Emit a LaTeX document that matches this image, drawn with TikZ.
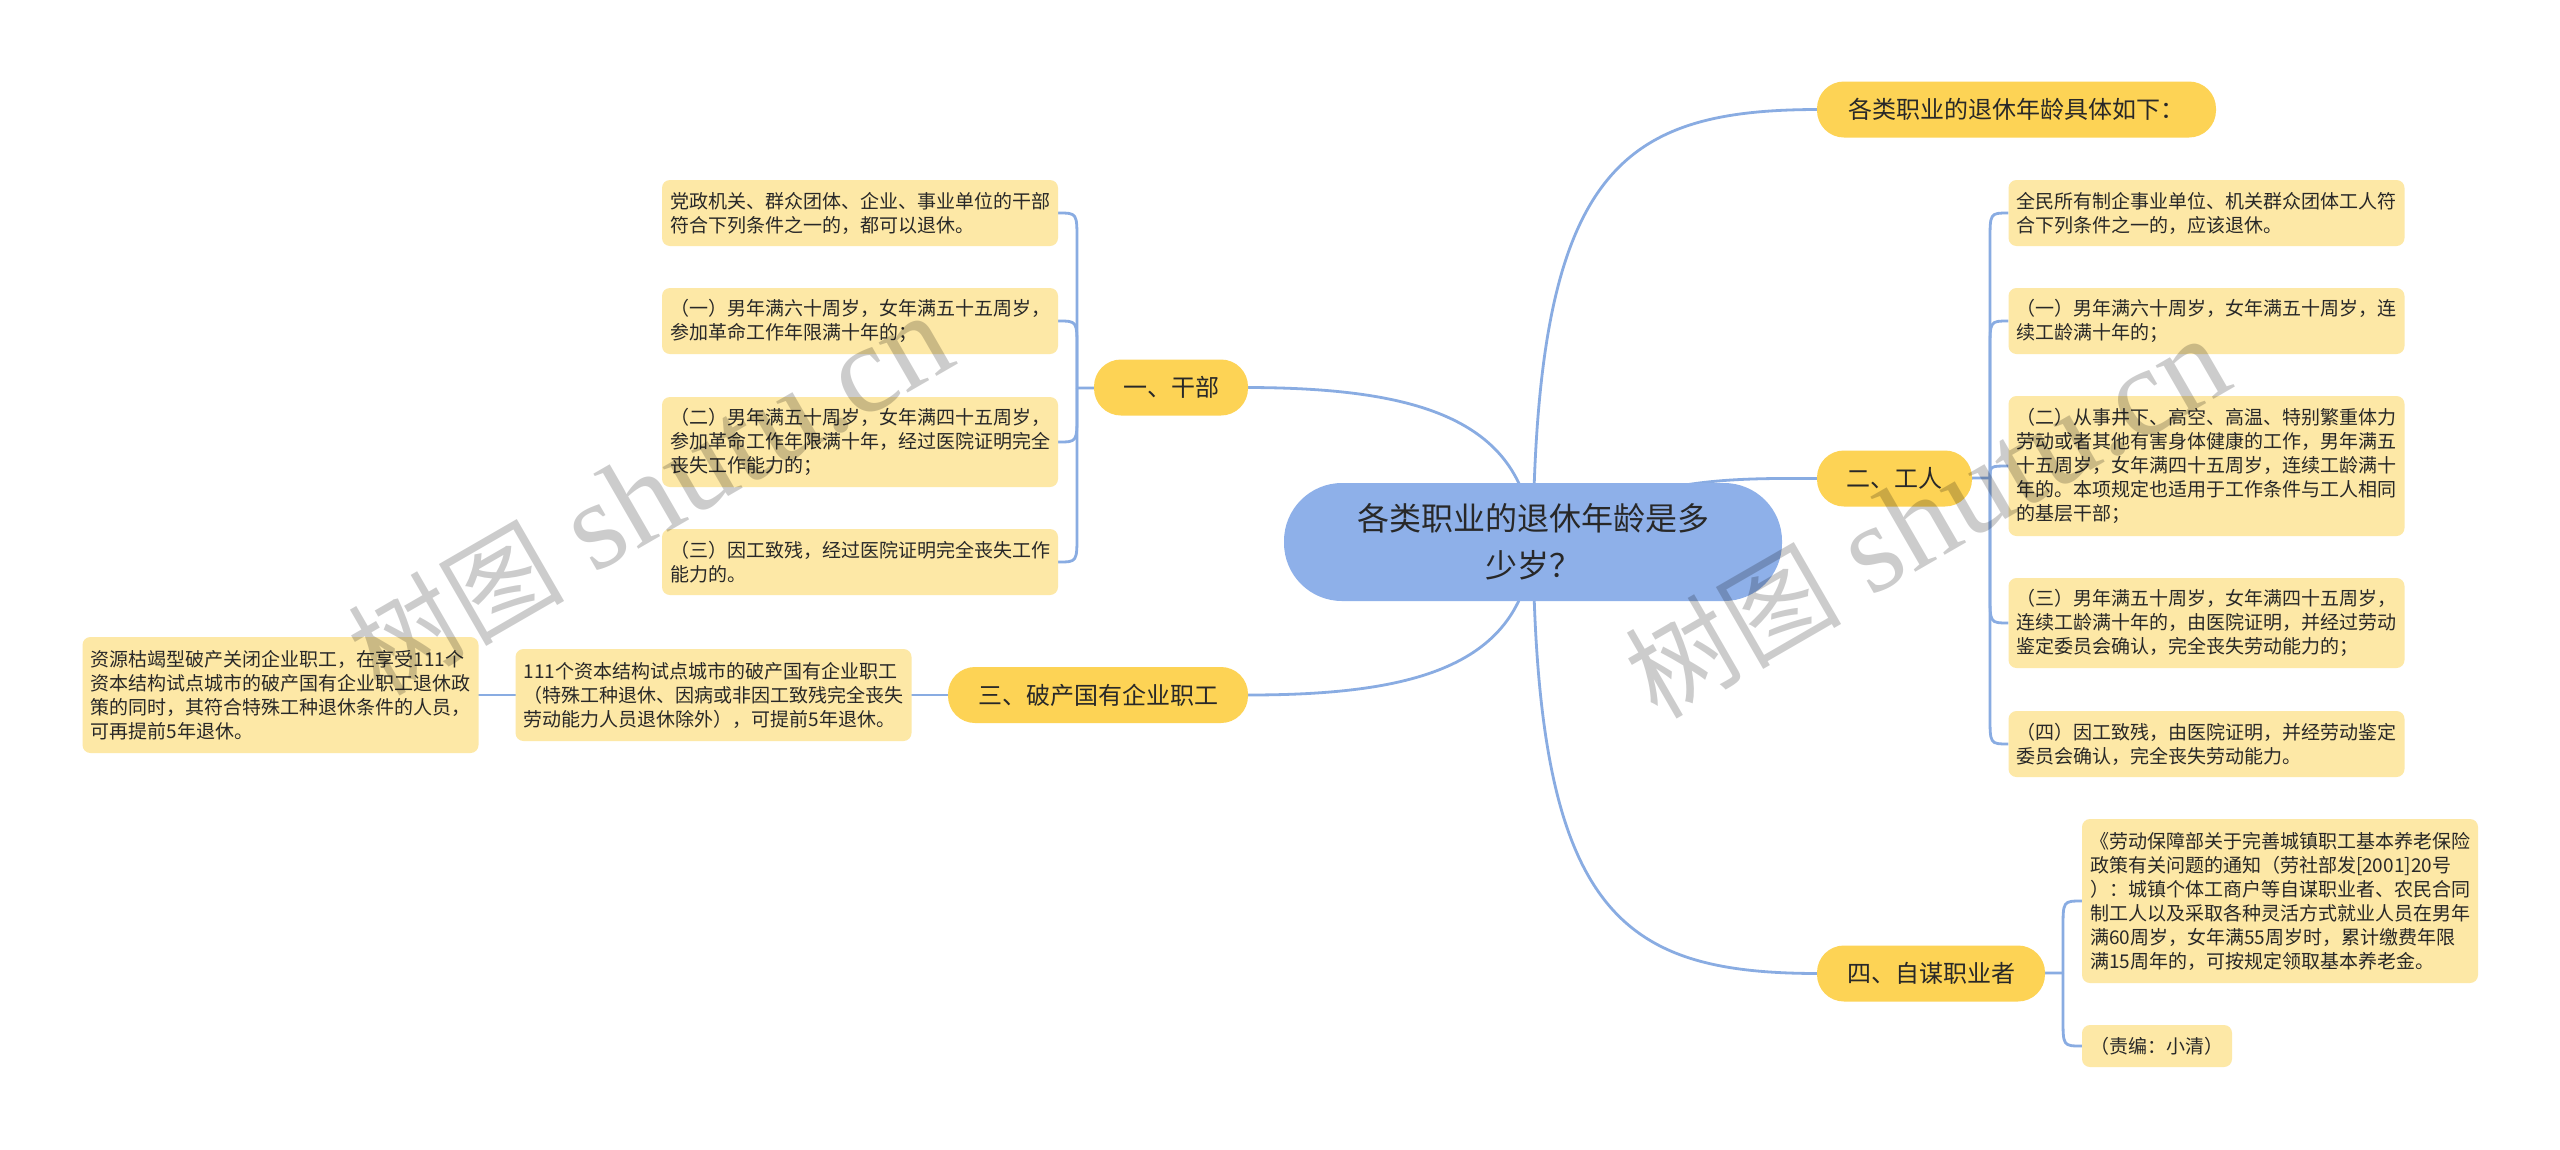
\documentclass[tikz,border=0pt]{standalone}
\usepackage{fontspec}
\setmainfont{Noto Sans CJK SC}
\newfontfamily\wmlatin{Liberation Serif}
\usetikzlibrary{calc}
\definecolor{centralc}{RGB}{142,176,233}
\definecolor{pillc}{RGB}{253,211,85}
\definecolor{leafc}{RGB}{253,232,166}
\definecolor{linec}{RGB}{137,172,226}
\definecolor{txt}{RGB}{40,40,40}
\pgfdeclarelayer{paper}
\pgfdeclarelayer{bg}
\pgfsetlayers{paper,bg,main}
\begin{document}
\begin{tikzpicture}[x=1pt,y=-1pt,
  conn/.style={draw=linec, line width=2.8pt},
  leaf/.style={fill=leafc, rounded corners=8pt, inner xsep=8pt, inner ysep=0pt, text width=380pt, align=left, font=\fontsize{19}{24}\selectfont, text=txt, anchor=center},
  pill/.style={fill=pillc, rounded corners=27pt, inner sep=0pt, font=\fontsize{24}{28}\selectfont, text=txt, anchor=center, minimum height=56pt},
  central/.style={fill=centralc, rounded corners=58pt, inner sep=0pt, minimum width=498pt, minimum height=118pt, align=center, font=\fontsize{32}{47}\selectfont, text=txt, anchor=center},
  wm/.style={rotate=30, text=black, text opacity=0.2, inner sep=0pt, anchor=center}
]
\useasboundingbox (0,0) rectangle (2560,1149);
\begin{pgfonlayer}{paper}
\fill[white] (0,0) rectangle (2560,1149);
\end{pgfonlayer}

% central
\node[central] (C) at (1533,542) {各类职业的退休年龄是多\\少岁？};

% main branches
\node[pill, minimum width=399pt] (Pj) at (2016.5,109.5) {各类职业的退休年龄具体如下：};
\node[pill, minimum width=155pt] (Pw) at (1894.5,478.5) {二、工人};
\node[pill, minimum width=228pt] (P4) at (1931,973.5) {四、自谋职业者};
\node[pill, minimum width=154pt] (Pg) at (1171,387.5) {一、干部};
\node[pill, minimum width=300pt] (P3) at (1098,695) {三、破产国有企业职工};

% cadre leaves
\node[leaf, minimum height=66pt] (L1) at (860,213) {党政机关、群众团体、企业、事业单位的干部\\符合下列条件之一的，都可以退休。};
\node[leaf, minimum height=66pt] (L2) at (860,321) {（一）男年满六十周岁，女年满五十五周岁，\\参加革命工作年限满十年的；};
\node[leaf, minimum height=90pt] (L3) at (860,442) {（二）男年满五十周岁，女年满四十五周岁，\\参加革命工作年限满十年，经过医院证明完全\\丧失工作能力的；};
\node[leaf, minimum height=66pt] (L4) at (860,562) {（三）因工致残，经过医院证明完全丧失工作\\能力的。};

% worker leaves
\node[leaf, minimum height=66pt] (R1) at (2206.5,213) {全民所有制企事业单位、机关群众团体工人符\\合下列条件之一的，应该退休。};
\node[leaf, minimum height=66pt] (R2) at (2206.5,321) {（一）男年满六十周岁，女年满五十周岁，连\\续工龄满十年的；};
\node[leaf, minimum height=140pt] (R3) at (2206.5,466) {（二）从事井下、高空、高温、特别繁重体力\\劳动或者其他有害身体健康的工作，男年满五\\十五周岁，女年满四十五周岁，连续工龄满十\\年的。本项规定也适用于工作条件与工人相同\\的基层干部；};
\node[leaf, minimum height=90pt] (R4) at (2206.5,623) {（三）男年满五十周岁，女年满四十五周岁，\\连续工龄满十年的，由医院证明，并经过劳动\\鉴定委员会确认，完全丧失劳动能力的；};
\node[leaf, minimum height=66pt] (R5) at (2206.5,744) {（四）因工致残，由医院证明，并经劳动鉴定\\委员会确认，完全丧失劳动能力。};

% self-employed leaves
\node[leaf, minimum height=164pt] (F1) at (2280,901) {《劳动保障部关于完善城镇职工基本养老保险\\政策有关问题的通知（劳社部发[2001]20号\\）：城镇个体工商户等自谋职业者、农民合同\\制工人以及采取各种灵活方式就业人员在男年\\满60周岁，女年满55周岁时，累计缴费年限\\满15周年的，可按规定领取基本养老金。};
\node[leaf, minimum height=42pt, text width=134pt] (F2) at (2157,1046) {（责编：小清）};

% bankrupt enterprise leaves
\node[leaf, minimum height=92pt] (M) at (713.5,695) {111个资本结构试点城市的破产国有企业职工\\（特殊工种退休、因病或非因工致残完全丧失\\劳动能力人员退休除外），可提前5年退休。};
\node[leaf, minimum height=116pt] (Far) at (280.5,695) {资源枯竭型破产关闭企业职工，在享受111个\\资本结构试点城市的破产国有企业职工退休政\\策的同时，其符合特殊工种退休条件的人员，\\可再提前5年退休。};

\coordinate (jg) at (1077,388);
\coordinate (jw) at (1990,478);
\coordinate (j4) at (2063,973);

\begin{pgfonlayer}{bg}
\draw[conn] (C.center) .. controls (1536,170) and (1620,110) .. (Pj.west);
\draw[conn] (C.center) .. controls (1640,478) and (1720,478) .. (Pw.west);
\draw[conn] (C.center) .. controls (1536,914) and (1620,973) .. (P4.west);
\draw[conn] (C.center) .. controls (1525,420) and (1420,388) .. (Pg.east);
\draw[conn] (C.center) .. controls (1525,664) and (1420,695) .. (P3.east);

\draw[conn] (Pg.center) -- (jg);
\draw[conn] (jg) -- ($(jg|-L1.east)+(0,28)$) .. controls (jg|-L1.east) .. (L1.east);
\draw[conn] (jg) -- ($(jg|-L2.east)+(0,28)$) .. controls (jg|-L2.east) .. (L2.east);
\draw[conn] (jg) -- ($(jg|-L3.east)+(0,-28)$) .. controls (jg|-L3.east) .. (L3.east);
\draw[conn] (jg) -- ($(jg|-L4.east)+(0,-28)$) .. controls (jg|-L4.east) .. (L4.east);

\draw[conn] (Pw.center) -- (jw);
\draw[conn] (jw) -- ($(jw|-R1.west)+(0,28)$) .. controls (jw|-R1.west) .. (R1.west);
\draw[conn] (jw) -- ($(jw|-R2.west)+(0,28)$) .. controls (jw|-R2.west) .. (R2.west);
\draw[conn] (jw) .. controls (jw|-R3.west) .. (R3.west);
\draw[conn] (jw) -- ($(jw|-R4.west)+(0,-28)$) .. controls (jw|-R4.west) .. (R4.west);
\draw[conn] (jw) -- ($(jw|-R5.west)+(0,-28)$) .. controls (jw|-R5.west) .. (R5.west);

\draw[conn] (P4.center) -- (j4);
\draw[conn] (j4) -- ($(j4|-F1.west)+(0,28)$) .. controls (j4|-F1.west) .. (F1.west);
\draw[conn] (j4) -- ($(j4|-F2.west)+(0,-28)$) .. controls (j4|-F2.west) .. (F2.west);

\draw[conn] (P3.center) -- (M.center);
\draw[conn] (M.center) -- (Far.center);
\end{pgfonlayer}

% watermarks
\node[wm] (wm1) at (650,495) {{\fontsize{108}{110}\selectfont 树图}\hspace{30pt}{\wmlatin\fontsize{126}{130}\selectfont shutu.cn}};
\node[wm] (wm2) at (1927,518) {{\fontsize{108}{110}\selectfont 树图}\hspace{30pt}{\wmlatin\fontsize{126}{130}\selectfont shutu.cn}};
\end{tikzpicture}
\end{document}
